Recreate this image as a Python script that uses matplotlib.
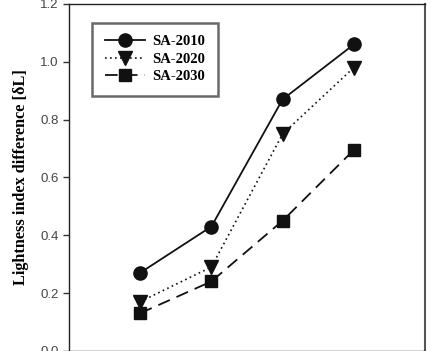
import matplotlib
matplotlib.use("Agg")
from matplotlib import pyplot as plt

# data
x = [1, 2, 3, 4]
sa2010 = [0.27, 0.43, 0.87, 1.06]
sa2020 = [0.17, 0.29, 0.75, 0.98]
sa2030 = [0.13, 0.24, 0.45, 0.695]
labels = ["SA-2010", "SA-2020", "SA-2030"]
yticks = [0.0, 0.2, 0.4, 0.6, 0.8, 1.0, 1.2]

fig = plt.figure(figsize=(4.31, 3.51), dpi=100)
ax = fig.add_axes([69 / 431, 0.2 / 351, (425 - 69) / 431, (351 - 4.2) / 351])

ax.plot(x, sa2010, linestyle="-", color="#111111", lw=1.3,
        marker="o", markersize=9.5, label=labels[0])
ax.plot(x, sa2020, linestyle=(0, (1, 2)), color="#111111", lw=1.2,
        marker="v", markersize=9.5, label=labels[1])
ax.plot(x, sa2030, linestyle=(0, (7, 4)), color="#111111", lw=1.3,
        marker="s", markersize=8.5, label=labels[2])

ax.set_xlim(0, 5)
ax.set_ylim(0, 1.2)
ax.set_xticks([])
ax.set_yticks(yticks)
ax.set_yticklabels(["%.1f" % v for v in yticks], fontfamily="Liberation Sans",
                   fontsize=9.5, color="#444444")
ax.tick_params(axis="y", direction="out", length=4, width=1, color="#333333")

for side in ["left", "top", "bottom"]:
    ax.spines[side].set_color("#222222")
    ax.spines[side].set_linewidth(1.0)
ax.spines["right"].set_color("#555555")
ax.spines["right"].set_linewidth(1.5)

ax.set_ylabel("Lightness index difference [δL]", fontfamily="Liberation Serif",
              fontweight="bold", fontsize=11.7, labelpad=8)

leg = ax.legend(loc="upper left", bbox_to_anchor=(0.065, 0.946), frameon=True,
                fancybox=False, handlelength=2.8, borderpad=0.85,
                borderaxespad=0, labelspacing=0.3, handletextpad=0.5,
                prop={"family": "Liberation Serif", "weight": "bold", "size": 10.5})
leg.get_frame().set_edgecolor("#444444")
leg.get_frame().set_linewidth(1.8)

fig.savefig("out.png", dpi=100)
